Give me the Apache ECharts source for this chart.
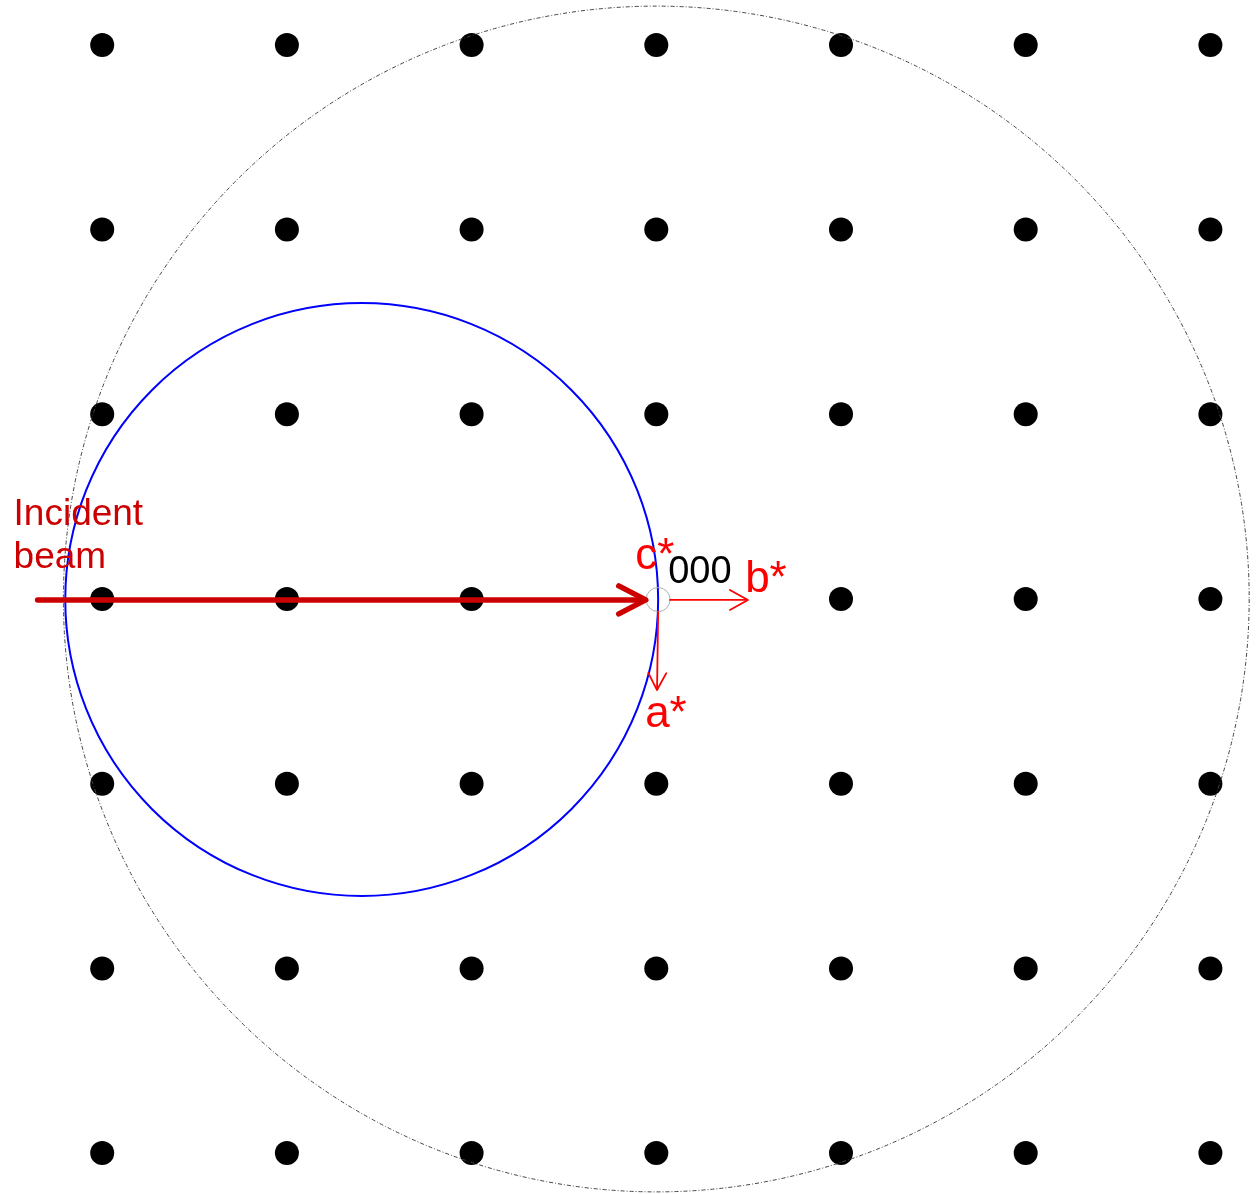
<!DOCTYPE html>
<html><head><meta charset="utf-8">
<script src="https://cdn.jsdelivr.net/npm/echarts@6/dist/echarts.min.js"></script>
<style>html,body{margin:0;padding:0;background:#fff}#c{width:1258px;height:1194px}</style>
</head><body><div id="c"></div>
<script>
// Reciprocal lattice indices (units of lattice spacing)
const LATTICE_H = [-3, -2, -1, 0, 1, 2, 3];
const LATTICE_K = [-3, -2, -1, 0, 1, 2, 3];
// Origin of the Ewald construction (000)
const ORIGIN = [0.01, -0.003];
const EWALD_RADIUS = 1.605;
const LIMIT_RADIUS = 3.21;
// Vectors [start, end]
const BEAM = [[-3.35, -0.005], [-0.057, -0.005]];
const B_STAR = [[0.074, -0.005], [0.496, -0.005]];
const A_STAR = [[0.01, -0.07], [0.004, -0.493]];
const TEXT_BEAM = 'Incident\nbeam';
const TEXT_A = 'a*', TEXT_B = 'b*', TEXT_C = 'c*', TEXT_O = '000';

const dots = [];
LATTICE_H.forEach(h => LATTICE_K.forEach(k => { if (h !== 0 || k !== 0) dots.push([h, k]); }));

const FONT = '"Liberation Sans", Arial, Helvetica, sans-serif';
const K_MID = 0.27;

function arrow(api, seg, color, width, back, side) {
  const a = api.coord(seg[0]), b = api.coord(seg[1]);
  const dx = b[0] - a[0], dy = b[1] - a[1];
  const L = Math.hypot(dx, dy), ux = dx / L, uy = dy / L, nx = -uy, ny = ux;
  const style = { stroke: color, lineWidth: width, fill: null, lineCap: 'round', lineJoin: 'round' };
  return [
    { type: 'line', shape: { x1: a[0], y1: a[1], x2: b[0] - ux * width * 0.5, y2: b[1] - uy * width * 0.5 }, style },
    { type: 'polyline', shape: { points: [
      [b[0] - ux * back + nx * side, b[1] - uy * back + ny * side],
      [b[0], b[1]],
      [b[0] - ux * back - nx * side, b[1] - uy * back - ny * side]] }, style }
  ];
}

function text(x, baseline, str, size, color, lh) {
  const lineH = lh || size;
  return { type: 'text', style: {
    x: x, y: baseline - K_MID * size - lineH / 2, text: str, fill: color,
    font: size + 'px ' + FONT, align: 'left', verticalAlign: 'top', lineHeight: lineH } };
}

function renderConstruction(params, api) {
  const o = api.coord(ORIGIN);
  const rLim = api.size([LIMIT_RADIUS, 0])[0];
  const rEw = api.size([EWALD_RADIUS, 0])[0];
  const ec = api.coord([ORIGIN[0] - EWALD_RADIUS, ORIGIN[1]]);
  const lc = api.coord([0, 0]);
  const bs = api.coord(BEAM[0]);
  const children = [
    { type: 'circle', shape: { cx: lc[0], cy: lc[1], r: rLim },
      style: { stroke: '#444', lineWidth: 1, fill: null, lineDash: [4, 2, 1, 2] } },
    { type: 'circle', shape: { cx: ec[0], cy: ec[1], r: rEw },
      style: { stroke: '#0000ff', lineWidth: 2, fill: null } },
    { type: 'circle', shape: { cx: o[0], cy: o[1], r: 12 },
      style: { stroke: '#b0b0b0', lineWidth: 1, fill: null } }
  ];
  children.push(...arrow(api, BEAM, '#cc0000', 5.5, 27, 14));
  children.push(...arrow(api, B_STAR, '#ff0000', 1.8, 18, 10));
  children.push(...arrow(api, A_STAR, '#ff0000', 1.8, 17, 9));
  children.push(text(o[0] - 23, o[1] - 31, TEXT_C, 44, '#ff0000'));
  children.push(text(o[0] + 10, o[1] - 17, TEXT_O, 38, '#000000'));
  children.push(text(o[0] + 87, o[1] - 8, TEXT_B, 44, '#ff0000'));
  children.push(text(o[0] - 13, o[1] + 127, TEXT_A, 44, '#ff0000'));
  // two-line label: first baseline given
  children.push({ type: 'text', style: {
    x: bs[0] - 24, y: bs[1] - 75 - K_MID * 37 - 43 / 2, text: TEXT_BEAM, fill: '#cc0000',
    font: '37px ' + FONT, align: 'left', verticalAlign: 'top', lineHeight: 43 } });
  return { type: 'group', children };
}

const chart = echarts.init(document.getElementById('c'), null, { renderer: 'canvas' });
chart.setOption({
  animation: false,
  backgroundColor: '#ffffff',
  grid: { left: 0, right: 0, top: 0, bottom: 0 },
  xAxis: { type: 'value', min: -656.3 / 184.7, max: (1258 - 656.3) / 184.7, show: false },
  yAxis: { type: 'value', min: -(1194 - 599) / 184.7, max: 599 / 184.7, show: false },
  series: [
    { type: 'scatter', data: dots, symbol: 'circle', symbolSize: 24,
      itemStyle: { color: '#000000', opacity: 1 }, silent: true, z: 2 },
    { type: 'custom', data: [[0, 0]], renderItem: renderConstruction, silent: true, z: 3, clip: false }
  ]
});
</script></body></html>
